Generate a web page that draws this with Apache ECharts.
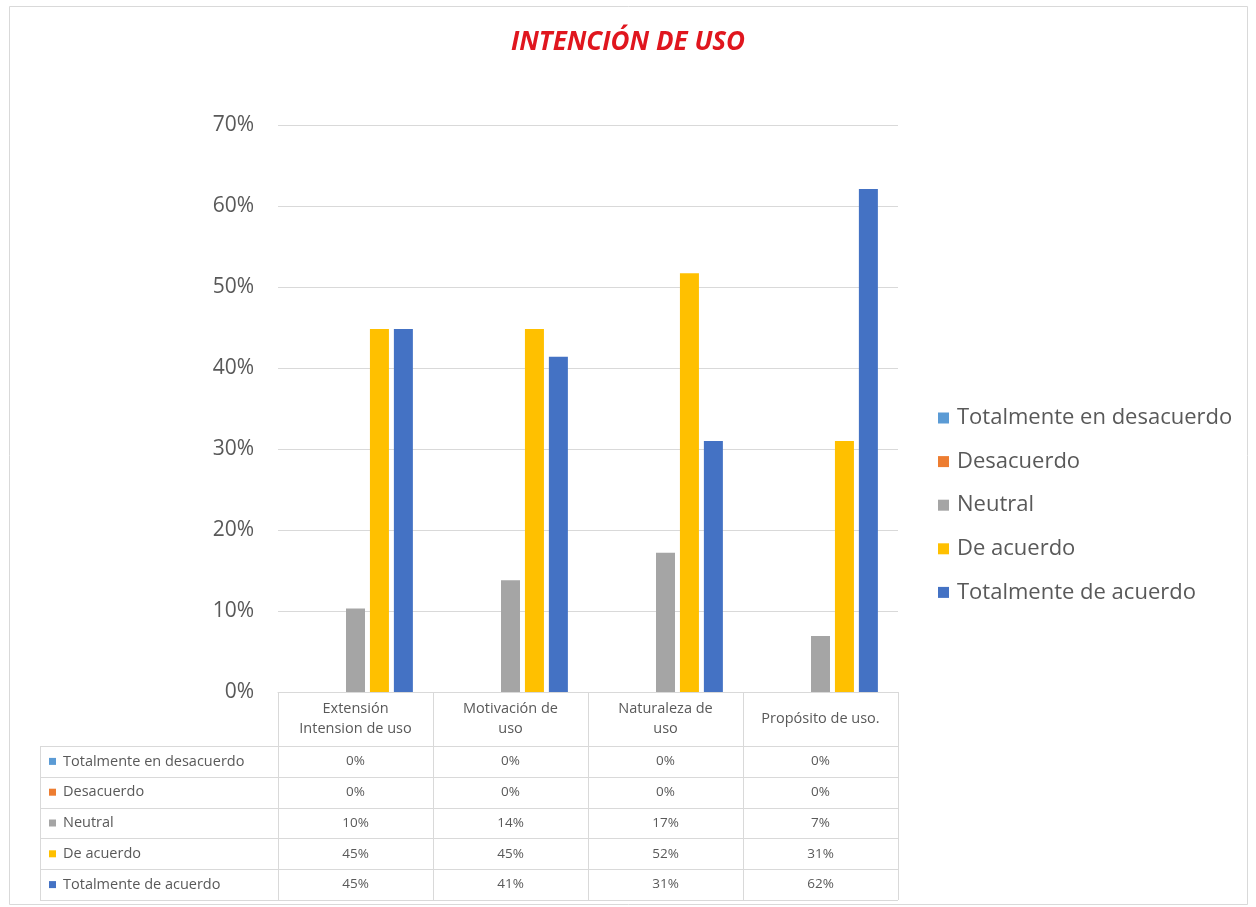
<!DOCTYPE html>
<html>
<head>
<meta charset="utf-8">
<script src="https://cdn.jsdelivr.net/npm/echarts@6/dist/echarts.min.js"></script>
<style>html,body{margin:0;padding:0;background:#fff}#c{width:1256px;height:907px}</style>
</head>
<body>
<div id="c"></div>
<script>
const categories = ['Extensión\nIntension de uso', 'Motivación de\nuso', 'Naturaleza de\nuso', 'Propósito de uso.'];
const seriesNames = ['Totalmente en desacuerdo', 'Desacuerdo', 'Neutral', 'De acuerdo', 'Totalmente de acuerdo'];
const totDesacuerdo = [0, 0, 0, 0];
const desacuerdo = [0, 0, 0, 0];
const neutral = [10.3, 13.8, 17.2, 6.9];
const deAcuerdo = [44.8, 44.8, 51.7, 31.0];
const totAcuerdo = [44.8, 41.4, 31.0, 62.1];
const yTicks = [0, 10, 20, 30, 40, 50, 60, 70];
const colors = ['#5B9BD5', '#ED7D31', '#A5A5A5', '#FFC000', '#4472C4'];
const allSeries = [totDesacuerdo, desacuerdo, neutral, deAcuerdo, totAcuerdo];

const font = '"Open Sans", "Liberation Sans", sans-serif';
const textColor = '#595959';
const lineColor = '#d9d9d9';

const G = {left: 278, right: 358, top: 125, bottom: 215};
const tableLeft = 40;
const rowTop = 746;
const rowH = 30.8;

const chart = echarts.init(document.getElementById('c'));
const option = {
  animation: false,
  backgroundColor: '#fff',
  title: {
    text: 'INTENCIÓN DE USO', left: 'center', top: 25,
    textStyle: {color: '#E0161E', fontSize: 26, fontWeight: 'bold', fontStyle: 'italic', fontFamily: font}
  },
  legend: {
    orient: 'vertical', left: 933, top: 400, itemGap: 17.6,
    icon: 'rect', itemWidth: 11, itemHeight: 11,
    textStyle: {color: textColor, fontSize: 22, fontFamily: font, lineHeight: 26, padding: [0, 0, 0, 3]},
    data: seriesNames
  },
  grid: {left: G.left, right: G.right, top: G.top, bottom: G.bottom, containLabel: false},
  xAxis: {
    type: 'category', data: categories,
    axisLine: {lineStyle: {color: lineColor}},
    axisTick: {show: true, alignWithLabel: false, length: 208, lineStyle: {color: lineColor}},
    axisLabel: {color: textColor, fontSize: 14.5, fontFamily: font, lineHeight: 20, margin: 27, verticalAlign: 'middle', interval: 0}
  },
  yAxis: {
    type: 'value', min: 0, max: 70, interval: 10,
    axisLine: {show: false}, axisTick: {show: false},
    splitLine: {lineStyle: {color: lineColor}},
    axisLabel: {color: textColor, fontSize: 21, fontFamily: font, margin: 24, formatter: v => v + '%'}
  },
  series: allSeries.map((d, i) => ({
    name: seriesNames[i], type: 'bar', data: d, barWidth: 19, barGap: '26%',
    itemStyle: {color: colors[i]}
  }))
};
chart.setOption(option);

// table drawn from data
const graphics = [];
const right = 1256 - G.right;
for (let r = 0; r <= 5; r++) {
  const y = Math.round(rowTop + r * rowH) + 0.5;
  graphics.push({type: 'line', shape: {x1: tableLeft, y1: y, x2: right, y2: y}, style: {stroke: lineColor, lineWidth: 1}, silent: true});
}
graphics.push({type: 'line', shape: {x1: tableLeft + 0.5, y1: rowTop, x2: tableLeft + 0.5, y2: Math.round(rowTop + 5 * rowH)}, style: {stroke: lineColor, lineWidth: 1}, silent: true});
seriesNames.forEach((name, r) => {
  const cy = rowTop + r * rowH + rowH / 2;
  graphics.push({type: 'rect', shape: {x: tableLeft + 9, y: cy - 3.5, width: 7, height: 7}, style: {fill: colors[r]}, silent: true});
  graphics.push({type: 'text', x: tableLeft + 23, y: cy, style: {text: name, fill: textColor, fontSize: 14.5, fontFamily: font, verticalAlign: 'middle', align: 'left'}, silent: true});
  allSeries[r].forEach((v, c) => {
    const cx = chart.convertToPixel({xAxisIndex: 0}, c);
    graphics.push({type: 'text', x: cx, y: cy, style: {text: Math.round(v) + '%', fill: textColor, fontSize: 13.5, fontFamily: font, verticalAlign: 'middle', align: 'center'}, silent: true});
  });
});
graphics.push({type: 'rect', shape: {x: 9.5, y: 6.5, width: 1238, height: 898}, style: {fill: 'none', stroke: '#d9d9d9', lineWidth: 1}, silent: true});
chart.setOption({graphic: graphics});
</script>
</body>
</html>
